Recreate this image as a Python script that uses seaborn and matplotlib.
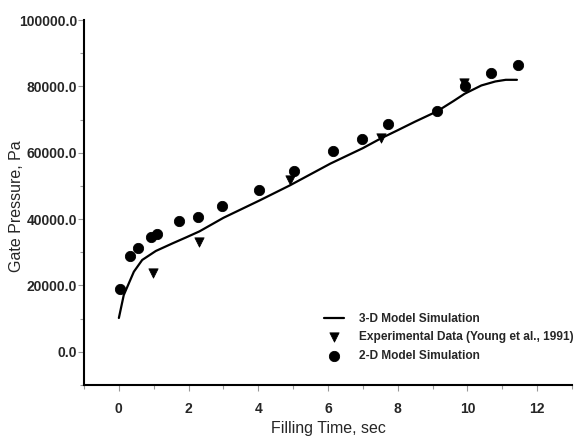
# gate pressure vs filling time
# 3-D model curve compared with experiment and 2-D model

import numpy as np
import pandas as pd
import matplotlib
matplotlib.use('Agg')
import matplotlib.pyplot as plt
import seaborn as sns

# 3-D model simulation (line)
sim3d_time = [0.0, 0.14, 0.43, 0.67, 1.06, 1.54, 1.93, 2.31, 3.0, 4.05, 4.91,
              6.07, 7.0, 7.51, 8.0, 8.5, 9.13, 9.6, 9.92, 10.4, 10.8, 11.1, 11.42]
sim3d_press = [10200, 17100, 24150, 27700, 30400, 32700, 34500, 36300, 40400, 45700, 50200,
               56750, 61400, 64300, 66800, 69400, 72500, 75600, 77800, 80300, 81500, 82000, 82000]

# experimental data (Young et al., 1991)
exp_time = [0.99, 2.31, 4.91, 7.53, 9.91]
exp_press = [23700, 33200, 51700, 64600, 81000]

# 2-D model simulation (circles)
sim2d_time = [0.03, 0.33, 0.54, 0.92, 1.1, 1.73, 2.28, 2.96, 4.03, 5.03,
              6.15, 6.98, 7.71, 9.13, 9.92, 10.67, 11.45]
sim2d_press = [19000, 29000, 31200, 34600, 35500, 39500, 40700, 43900, 48900, 54500,
               60450, 64050, 68800, 72500, 80100, 84200, 86500]

sns.set_style('ticks')
plt.rcParams['font.family'] = ['Liberation Sans', 'DejaVu Sans']

fig = plt.figure(figsize=(5.81, 4.37), dpi=100)
ax = fig.add_axes([0.1446, 0.119, 0.8399, 0.835])

sns.lineplot(x=sim3d_time, y=sim3d_press, ax=ax, color='black', linewidth=1.6,
             label='3-D Model Simulation')
sns.scatterplot(x=exp_time, y=exp_press, ax=ax, marker='v', color='black', s=45,
                edgecolor='black', label='Experimental Data (Young et al., 1991)')
sns.scatterplot(x=sim2d_time, y=sim2d_press, ax=ax, marker='o', color='black', s=55,
                edgecolor='black', label='2-D Model Simulation')

ax.set_xlim(-1, 13)
ax.set_ylim(-10000, 100000)
ax.set_xticks([0, 2, 4, 6, 8, 10, 12])
ax.set_xticks(np.arange(-1, 14, 2), minor=True)
ax.set_yticks(np.arange(0, 100001, 20000))
ax.set_yticks(np.arange(-10000, 100001, 20000), minor=True)
ax.set_yticklabels([f'{v:.1f}' for v in np.arange(0, 100001, 20000)])

for lab in ax.get_xticklabels() + ax.get_yticklabels():
    lab.set_fontweight('bold')
    lab.set_fontsize(10)

ax.tick_params(which='both', direction='out', color='#999999', width=0.8)
ax.tick_params(which='major', length=4)
ax.tick_params(which='minor', length=3)
ax.tick_params(axis='x', which='major', pad=8)
ax.tick_params(axis='y', which='major', pad=1)

ax.set_xlabel('Filling Time, sec', fontsize=11.5)
ax.set_ylabel('Gate Pressure, Pa', fontsize=11.5)
ax.xaxis.set_label_coords(0.5, -0.1)
ax.yaxis.set_label_coords(-0.123, 0.49)

sns.despine(ax=ax)
for sp in ['left', 'bottom']:
    ax.spines[sp].set_linewidth(1.5)
    ax.spines[sp].set_color('black')

leg = ax.legend(loc='upper left', bbox_to_anchor=(0.557, 0.284),
                bbox_transform=fig.transFigure, frameon=False,
                prop={'weight': 'bold', 'size': 8.6}, handlelength=1.7,
                handletextpad=1.3, labelspacing=0.55, borderpad=0, borderaxespad=0)

plt.savefig('out.png', dpi=100)
